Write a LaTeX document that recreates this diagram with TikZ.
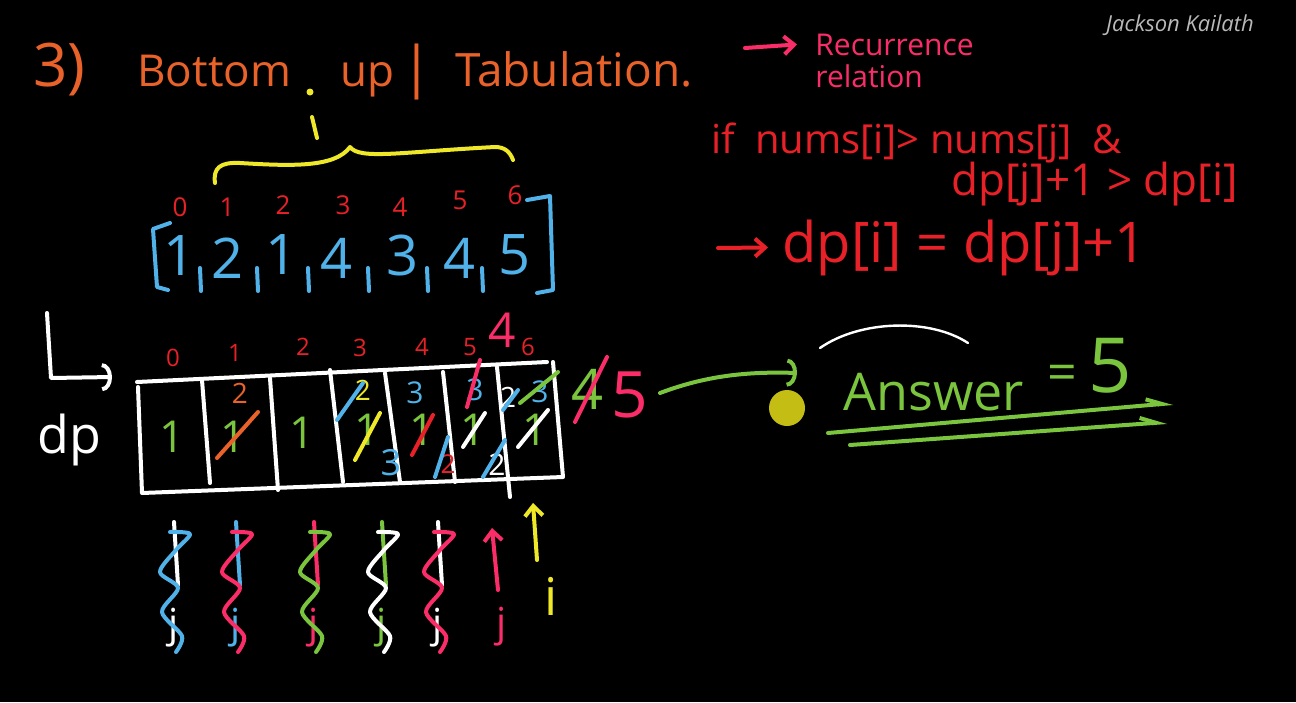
\documentclass[tikz,border=0pt]{standalone}
\usepackage{fontspec}
\setmainfont{Open Sans}
\usetikzlibrary{arrows.meta}
\definecolor{chalkorange}{RGB}{232,98,42}
\definecolor{chalkpink}{RGB}{250,45,105}
\definecolor{chalkred}{RGB}{232,32,40}
\definecolor{chalkblue}{RGB}{80,178,232}
\definecolor{chalkgreen}{RGB}{122,196,62}
\definecolor{chalkyellow}{RGB}{238,232,40}
\definecolor{chalkgray}{RGB}{185,185,185}
\definecolor{cursoryellow}{RGB}{196,190,20}

\begin{document}
\begin{tikzpicture}[x=0.5pt,y=-0.5pt,
  hand/.style={line width=2pt,line cap=round,line join=round},
  txt/.style={inner sep=0pt,font=\fontsize{#1}{#1}\selectfont},
  txt/.default=20,
  >={Straight Barb[length=5pt,width=9pt]}]
\fill[black] (0,0) rectangle (1296,702);
% title
\node[txt=30,text=chalkorange,anchor=base west] (tnum) at (33,86) {3)};
\node[txt=22,text=chalkorange,anchor=base west] (tbottom) at (137,86) {Bottom};
\node[txt=22,text=chalkorange,anchor=base west] (tup) at (340,86) {up};
\node[txt=28,text=chalkorange,anchor=base] (tbar) at (417,86) {|};
\node[txt=23,text=chalkorange,anchor=base west] (ttab) at (455,86) {Tabulation.};
\node[txt=11,text=chalkgray] (author) at (1180,25) {\itshape Jackson Kailath};
% recurrence notes
\node[txt=15,text=chalkpink,anchor=base west] (recur) at (815,55) {Recurrence};
\node[txt=15,text=chalkpink,anchor=base west] (relat) at (815,87) {relation};
\coordinate (recfrom) at (745,48);
\draw[hand,chalkpink,->] (recfrom) -- ([xshift=-9pt]recur.west);
\node[txt=20,text=chalkred,anchor=base west] (cond1) at (711,153) {if\enspace nums[i]> nums[j]\enspace\&};
\node[txt=22,text=chalkred,anchor=base west] (cond2) at (951,195) {dp[j]+1 > dp[i]};
\node[txt=28,text=chalkred,anchor=base west] (update) at (782,262) {dp[i] = dp[j]+1};
\coordinate (updfrom) at (718,248);
\draw[hand,chalkred,->] (updfrom) -- ([xshift=-7pt]update.west);
% i and brace
\fill[chalkyellow] (310,92) circle (3.5);
\draw[hand,chalkyellow] (312,117) -- (317,138);
\draw[hand,chalkyellow] (215,183) .. controls (213,168) and (220,162) .. (240,163)
  .. controls (290,166) and (335,168) .. (350,147)
  .. controls (360,160) and (400,152) .. (495,147)
  .. controls (505,147) and (510,152) .. (513,160);
% nums array
\foreach \x/\y/\t in {180/207/0,227/207/1,283/205/2,343/205/3,400/207/4,460/200/5,515/195/6}
  \node[txt=13,text=chalkred] (idx\t) at (\x,\y) {\t};
\foreach \x/\y/\v [count=\k] in {180/256/1,228/258/2,282/255/1,337/258/4,403/255/3,460/258/4,515/255/5}
  \node[txt=28,text=chalkblue] (num\k) at (\x,\y) {\v};
\foreach \x in {200,257,308,368,427,482}
  \draw[hand,chalkblue] (\x,268) -- (\x+1,291);
\draw[hand,chalkblue] (170,223) -- (153,229) -- (157,287) -- (168,290);
\draw[hand,chalkblue] (527,200) -- (550,196) -- (553,290) -- (537,293);
% dp table
\draw[hand,white] (137,382) -- (547,362);
\draw[hand,white] (138,387) -- (142,493) -- (563,477) -- (553,362);
\draw[hand,white] (202,380) -- (210,483);
\draw[hand,white] (270,378) -- (278,490);
\draw[hand,white] (330,370) -- (343,482);
\draw[hand,white] (385,373) -- (400,482);
\draw[hand,white] (443,372) -- (455,482);
\draw[hand,white] (497,367) -- (510,497);
\foreach \x/\y/\t in {173/358/0,235/353/1,303/347/2,360/348/3,422/347/4,470/347/5,528/347/6}
  \node[txt=12,text=chalkred] (dpidx\t) at (\x,\y) {\t};
\node[txt=24,text=chalkpink] (dpfour) at (502,330) {4};
\foreach \x/\y [count=\k from 0] in {172/437,233/437,302/433,367/430,422/430,473/430,535/430}
  \node[txt=22,text=chalkgreen] (one\k) at (\x,\y) {1};
% cell 1
\node[txt=14,text=chalkorange] (c1two) at (240,393) {2};
\draw[hand,chalkorange] (217,458) -- (258,412);
% cell 3
\node[txt=14,text=chalkyellow] (c3two) at (363,390) {2};
\draw[hand,chalkblue] (337,420) -- (363,383);
\draw[hand,chalkyellow] (355,460) -- (380,413);
\node[txt=18,text=chalkblue] (c3three) at (391,463) {3};
% cell 4
\node[txt=15,text=chalkblue] (c4three) at (415,393) {3};
\draw[hand,chalkred] (412,455) -- (433,415);
\node[txt=13,text=chalkred] (c4two) at (448,464) {2};
\draw[hand,chalkblue] (435,477) -- (448,437);
% cell 5
\node[txt=15,text=chalkblue] (c5three) at (475,390) {3};
\draw[hand,chalkpink] (467,407) -- (480,360);
\draw[hand,white] (463,447) -- (485,413);
\node[txt=15,text=white] (c5two) at (497,465) {2};
\draw[hand,chalkblue] (483,477) -- (505,440);
% cell 6
\node[txt=14,text=white] (c6two) at (508,397) {2};
\draw[hand,chalkblue] (503,410) -- (518,390);
\node[txt=15,text=chalkblue] (c6three) at (540,392) {3};
\draw[hand,chalkgreen] (520,403) -- (558,372);
\draw[hand,white] (518,447) -- (548,410);
% next to the table
\node[txt=28,text=chalkgreen] (oldfour) at (588,389) {4};
\draw[hand,chalkpink] (575,422) -- (607,357);
\node[txt=32,text=chalkpink] (lastfive) at (630,395) {5};
% dp label
\node[txt=26,text=white] (dplabel) at (69,440) {dp};
\coordinate (dpstart) at (47,313);
\coordinate (dpin) at (112,377);
\draw[hand,white,-{Arc Barb[length=5pt,width=14pt]}] (dpstart) -- (51,378) -- (dpin);
% answer
\coordinate (arrtail) at (660,393);
\coordinate (arrhead) at (797,373);
\draw[hand,chalkgreen,-{Arc Barb[length=5pt,width=14pt]}] (arrtail) .. controls (700,378) and (740,371) .. (arrhead);
\fill[cursoryellow] (787,408) circle (18);
\node[txt=26,text=chalkgreen,anchor=base west] (answer) at (843,410) {Answer};
\node[txt=26,text=chalkgreen] (equals) at (1062,378) {=};
\node[txt=38,text=chalkgreen,anchor=base west] (ansfive) at (1088,392) {5};
\draw[line width=1.2pt,white,line cap=round] (820,348) .. controls (860,320) and (930,318) .. (968,343);
\coordinate (ulone) at (828,433);
\coordinate (ulonetip) at (1173,403);
\coordinate (ultwo) at (850,445);
\coordinate (ultwotip) at (1167,422);
\draw[hand,chalkgreen,-{Straight Barb[left,length=8pt,width=6pt]}] (ulone) -- (ulonetip);
\draw[hand,chalkgreen,-{Straight Barb[left,length=8pt,width=6pt]}] (ultwo) -- (ultwotip);
% j traces under the table
\foreach \x/\lc/\sc [count=\k] in {174/white/chalkblue,236/chalkblue/chalkpink,314/chalkpink/chalkgreen,382/chalkgreen/white,438/white/chalkpink} {
  \draw[hand,\lc] (\x,522) -- (\x+4,585);
  \node[txt=20,text=\lc] (jmark\k) at (\x,628) {j};
  \draw[hand,\sc] plot[smooth] coordinates {(\x-4,532) (\x+16,534) (\x+2,550) (\x-14,572) (\x+4,588) (\x-12,612) (\x+8,636) (\x+2,652)};
}
\coordinate (jbot) at (498,590);
\coordinate (jtop) at (492,528);
\draw[hand,chalkpink,->] (jbot) -- (jtop);
\node[txt=20,text=chalkpink] (jlast) at (502,627) {j};
\coordinate (ibot) at (537,560);
\coordinate (itop) at (533,503);
\draw[hand,chalkyellow,->] (ibot) -- (itop);
\node[txt=26,text=chalkyellow] (ilast) at (551,596) {i};
\end{tikzpicture}
\end{document}
